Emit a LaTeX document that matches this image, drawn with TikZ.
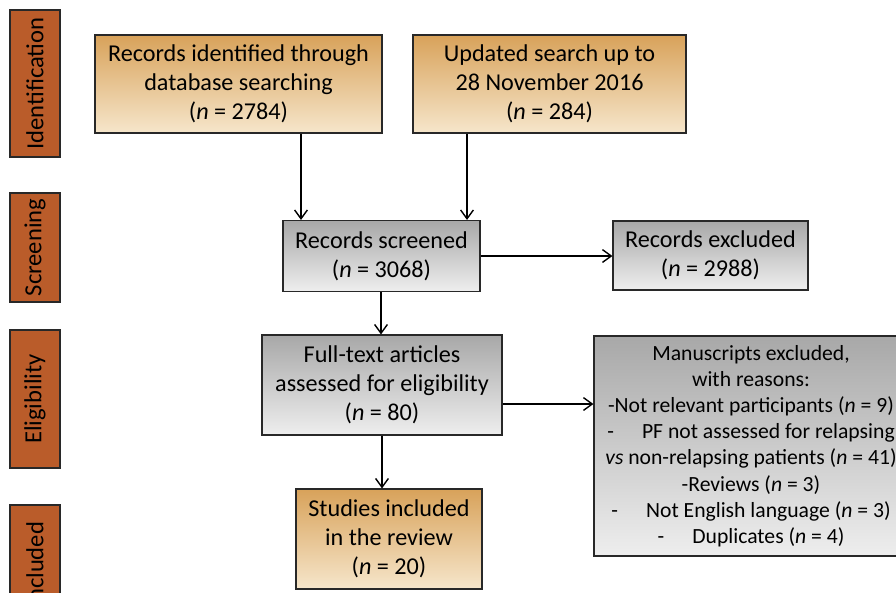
\documentclass[tikz,border=0pt]{standalone}
\usepackage{fontspec}
\setmainfont{Carlito}
\usepackage{tikz}
\usetikzlibrary{positioning, calc, arrows.meta}

\definecolor{StageBrown}{RGB}{186,92,42}
\definecolor{OrangeTop}{RGB}{216,162,90}
\definecolor{OrangeBot}{RGB}{246,230,203}
\definecolor{GrayTop}{RGB}{168,168,168}
\definecolor{GrayBot}{RGB}{238,238,238}
\definecolor{BoxLine}{RGB}{40,40,40}

\begin{document}
\begin{tikzpicture}
    \tikzset{StageStyle/.style = {draw=BoxLine, line width=0.8pt, fill=StageBrown, rotate=90, minimum height=1.25cm, inner sep=0pt, font=\fontsize{17.5}{20}\selectfont}}
    \tikzset{OrangeBox/.style = {draw=BoxLine, line width=0.8pt, top color=OrangeTop, bottom color=OrangeBot, align=center, inner sep=0pt, font=\fontsize{17.2}{20.8}\selectfont}}
    \tikzset{GrayBox/.style = {draw=BoxLine, line width=0.8pt, top color=GrayTop, bottom color=GrayBot, align=center, inner sep=0pt, font=\fontsize{17.2}{20.8}\selectfont}}
    \tikzset{EdgeStyle/.style = {line width=1pt, -{Straight Barb[length=2.2mm, width=3.2mm]}, color=black}}
    \clip (0, 0) rectangle (22.4, -14.8);
    \fill[white] (0, 0) rectangle (22.4, -14.8);
    % phases
    \node[StageStyle, minimum width=3.675cm] (ident) at (0.875, -2.0875) {Identification};
    \node[StageStyle, minimum width=2.725cm] (screen) at (0.875, -6.1875) {Screening};
    \node[StageStyle, minimum width=3.45cm] (elig) at (0.875, -9.975) {Eligibility};
    \node[StageStyle, minimum width=3.0cm] (incl) at (0.875, -14.125) {Included};
    % boxes
    \node[OrangeBox, minimum width=7.175cm, minimum height=2.45cm] (recid) at (5.9625, -2.1) {Records identified through\\database searching\\(\textit{n} = 2784)};
    \node[OrangeBox, minimum width=6.825cm, minimum height=2.45cm] (upd) at (13.7375, -2.1) {Updated search up to\\28 November 2016\\(\textit{n} = 284)};
    \node[GrayBox, minimum width=4.925cm, minimum height=1.775cm] (scr) at (9.5375, -6.4) {Records screened\\(\textit{n} = 3068)};
    \node[GrayBox, minimum width=4.875cm, minimum height=1.725cm] (excl) at (17.7625, -6.3875) {Records excluded\\(\textit{n} = 2988)};
    \node[GrayBox, minimum width=6.0cm, minimum height=2.5cm] (full) at (9.55, -9.625) {Full-text articles\\assessed for eligibility\\(\textit{n} = 80)};
    \node[GrayBox, minimum width=7.85cm, minimum height=5.5cm, font=\fontsize{15.4}{18.6}\selectfont] (manu) at (18.775, -11.15) {Manuscripts excluded,\\with reasons:\\-Not relevant participants (\textit{n} = 9)\\-\hspace{1.3em}PF not assessed for relapsing\\\textit{vs} non-relapsing patients (\textit{n} = 41)\\-Reviews (\textit{n} = 3)\\-\hspace{1.3em}Not English language (\textit{n} = 3)\\-\hspace{1.3em}Duplicates (\textit{n} = 4)};
    \node[OrangeBox, minimum width=4.65cm, minimum height=2.5cm] (stud) at (9.725, -13.475) {Studies included\\in the review\\(\textit{n} = 20)};
    % connectors
    \coordinate (c1) at (7.525, 0);
    \coordinate (c2) at (11.675, 0);
    \coordinate (c3) at ($(full.east)+(0,-0.475)$);
    \coordinate (c4) at (9.525, 0);
    \draw[EdgeStyle] (recid.south -| c1) -- (scr.north -| c1);
    \draw[EdgeStyle] (upd.south -| c2) -- (scr.north -| c2);
    \draw[EdgeStyle] (scr.east) -- (excl.west |- scr.east);
    \draw[EdgeStyle] (scr.south -| c4) -- (full.north -| c4);
    \draw[EdgeStyle] (c3) -- (manu.west |- c3);
    \draw[EdgeStyle] (full.south) -- (full.south |- stud.north);
\end{tikzpicture}
\end{document}
